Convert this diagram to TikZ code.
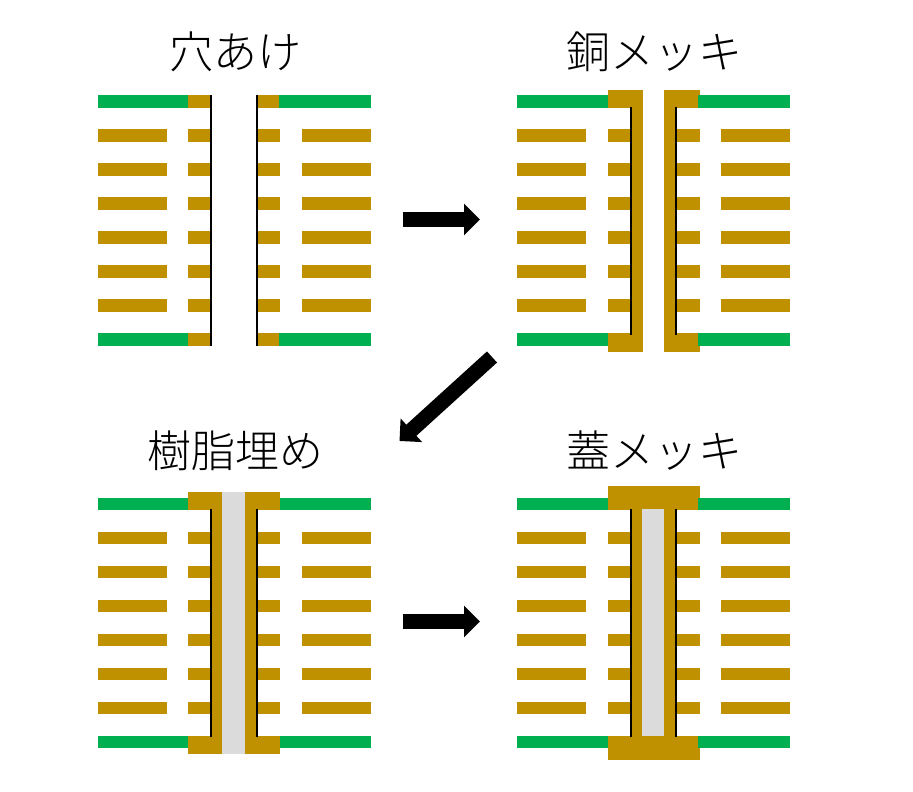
\documentclass[tikz,border=0pt]{standalone}
\usepackage{fontspec}
\setmainfont{Noto Sans CJK JP Light}
\usetikzlibrary{arrows.meta}
\definecolor{copperc}{HTML}{BF9000}
\definecolor{resistc}{HTML}{00B050}
\definecolor{resinc}{HTML}{DBDBDB}
\tikzset{
  copper/.style={fill=copperc},
  resist/.style={fill=resistc},
  resin/.style={fill=resinc},
  wall/.style={fill=black},
  titletext/.style={font=\fontsize{44}{44}\selectfont, inner sep=0pt},
  bigarrow/.style={draw=black, line width=15pt, -{Triangle[length=16pt,width=31pt]}}
}
% #1 left edge, #2 top edge, #3 layer height, #4 pad offset
\newcommand{\pcbbase}[4]{
\begin{scope}[shift={(#1,#2)}]
\foreach \ly in {34,68,...,204} {
  \fill[copper] (0,\ly) rectangle ++(69,#3);
  \fill[copper] (90+#4,\ly) rectangle ++(22,#3);
  \fill[copper] (160,\ly) rectangle ++(22+#4,#3);
  \fill[copper] (204,\ly) rectangle ++(69,#3);
}
\foreach \ly in {0,238} {
  \fill[resist] (0,\ly) rectangle ++(90+#4,#3);
  \fill[resist] (181,\ly) rectangle ++(92,#3);
}
\end{scope}
}

\begin{document}
\begin{tikzpicture}[x=1pt,y=-1pt]
\useasboundingbox (0,0) rectangle (913,792);

\node[titletext] (drilltitle) at (235.5,52) {穴あけ};
\node[titletext] (platetitle) at (654.5,52) {銅メッキ};
\node[titletext] (filltitle) at (235,451) {樹脂埋め};
\node[titletext] (captitle) at (654.5,451) {蓋メッキ};

\pcbbase{98}{95}{13}{0}
\fill[copper] (188,95) rectangle (210,108);
\fill[copper] (258,95) rectangle (279,108);
\fill[copper] (188,333) rectangle (210,346);
\fill[copper] (258,333) rectangle (279,346);
\fill[wall] (210,95) rectangle (212,346);
\fill[wall] (256,95) rectangle (258,346);

\pcbbase{517}{95}{13}{1}
\fill[copper] (608,90) rectangle (643,108);
\fill[copper] (664,90) rectangle (698,108);
\fill[copper] (698,90) rectangle (700,95);
\fill[copper] (632,108) rectangle (643,333);
\fill[copper] (664,108) rectangle (675,333);
\fill[copper] (608,333) rectangle (643,352);
\fill[copper] (664,333) rectangle (698,352);
\fill[copper] (698,346) rectangle (700,352);
\fill[wall] (630,107) rectangle (632,335);
\fill[wall] (675,107) rectangle (677,335);

\pcbbase{98}{498}{12}{0}
\fill[copper] (188,492) rectangle (280,510);
\fill[copper] (188,736) rectangle (280,754);
\fill[copper] (212,510) rectangle (256,736);
\fill[resin] (222,492) rectangle (245,754);
\fill[wall] (210,509) rectangle (212,737);
\fill[wall] (256,509) rectangle (258,737);

\pcbbase{517}{498}{12}{1}
\fill[copper] (608,486) rectangle (700,498);
\fill[copper] (608,498) rectangle (698,510);
\fill[copper] (608,736) rectangle (698,748);
\fill[copper] (608,748) rectangle (700,760);
\fill[copper] (632,510) rectangle (675,736);
\fill[resin] (642,509) rectangle (664,736);
\fill[wall] (630,509) rectangle (632,737);
\fill[wall] (675,509) rectangle (677,737);

\coordinate (platestart) at (403,219.5);
\coordinate (plateend) at (480,219.5);
\coordinate (fillstart) at (492,357);
\coordinate (fillend) at (399.5,441);
\coordinate (capstart) at (403,621.5);
\coordinate (capend) at (480,621.5);
\draw[bigarrow] (platestart) -- (plateend);
\draw[bigarrow] (fillstart) -- (fillend);
\draw[bigarrow] (capstart) -- (capend);
\end{tikzpicture}
\end{document}
